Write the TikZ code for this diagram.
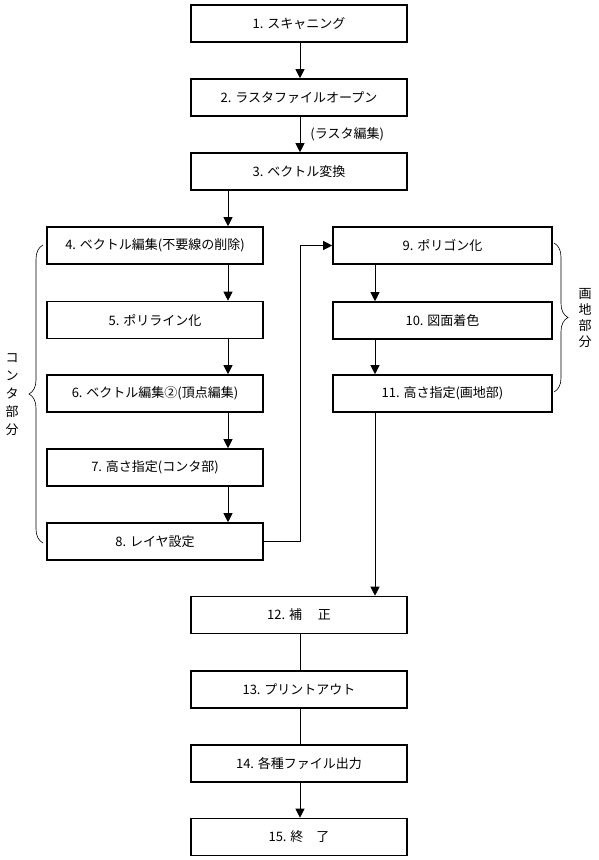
\documentclass[tikz,border=0pt]{standalone}
\usepackage{fontspec}
\newfontfamily\jp{Noto Sans CJK JP}
\usetikzlibrary{arrows.meta,decorations.pathreplacing}
\begin{document}
\begin{tikzpicture}[x=1pt,y=-1pt,
  box/.style={draw,line width=1.6pt,minimum width=216pt,minimum height=37pt,inner sep=0pt,font=\jp\fontsize{13}{15}\selectfont},
  link/.style={line width=0.8pt},
  arr/.style={link,-{Triangle[width=9pt,length=9pt]}},
  brc/.style={decorate,decoration={brace,amplitude=14pt},line width=0.6pt},
  lbl/.style={font=\jp\fontsize{13}{15}\selectfont,inner sep=0pt}]
\useasboundingbox (0,0) rectangle (599,860);
% columns
\coordinate (cl) at (228,0);
\coordinate (cr) at (375,0);
\coordinate (cj) at (300,0);
% center column
\node[box] (b1) at (299,23.5) {1. スキャニング};
\node[box] (b2) at (299,97.5) {2. ラスタファイルオープン};
\node[box] (b3) at (299,171.5) {3. ベクトル変換};
% left column
\node[box] (b4) at (155,245.5) {4. ベクトル編集(不要線の削除)};
\node[box] (b5) at (155,320) {5. ポリライン化};
\node[box] (b6) at (155,393.5) {6. ベクトル編集②(頂点編集)};
\node[box] (b7) at (155,467.5) {7. 高さ指定(コンタ部)};
\node[box] (b8) at (155,541.5) {8. レイヤ設定};
% right column
\node[box,minimum width=219pt] (b9) at (442.5,245.5) {9. ポリゴン化};
\node[box,minimum width=219pt] (b10) at (442.5,320.5) {10. 図面着色};
\node[box,minimum width=219pt] (b11) at (442.5,393.5) {11. 高さ指定(画地部)};
% bottom
\node[box] (b12) at (299,615) {12. 補　 正};
\node[box] (b13) at (299,689.5) {13. プリントアウト};
\node[box] (b14) at (299,763.5) {14. 各種ファイル出力};
\node[box] (b15) at (299,837) {15. 終　了};
% connectors
\draw[arr] (b1.south -| cj) -- (b2.north -| cj);
\draw[arr] (b2.south -| cj) -- node[lbl,anchor=west,xshift=10pt] (l1) {(ラスタ編集)} (b3.north -| cj);
\draw[arr] (b3.south -| cl) -- (b4.north -| cl);
\draw[arr] (b4.south -| cl) -- (b5.north -| cl);
\draw[arr] (b5.south -| cl) -- (b6.north -| cl);
\draw[arr] (b6.south -| cl) -- (b7.north -| cl);
\draw[arr] (b7.south -| cl) -- (b8.north -| cl);
\draw[arr] (b8.east) -| (cj |- b9.west) -- (b9.west);
\draw[arr] (b9.south -| cr) -- (b10.north -| cr);
\draw[arr] (b10.south -| cr) -- (b11.north -| cr);
\draw[arr] (b11.south -| cr) -- (b12.north -| cr);
\draw[link] (b12.south -| cj) -- (b13.north -| cj);
\draw[link] (b13.south -| cj) -- (b14.north -| cj);
\draw[arr] (b14.south -| cj) -- (b15.north -| cj);
% braces
\coordinate (lbA) at (43,543);
\coordinate (lbB) at (43,245);
\draw[brc] (lbA) -- (lbB);
\coordinate (rbA) at (554,243);
\coordinate (rbB) at (554,392);
\draw[brc] (rbA) -- (rbB);
\node[lbl,align=center,font=\jp\fontsize{13}{18}\selectfont] (tl) at (12,395) {コ\\ン\\タ\\部\\分};
\node[lbl,align=center,font=\jp\fontsize{13}{16}\selectfont] (tr) at (585,318) {画\\地\\部\\分};
\end{tikzpicture}
\end{document}
